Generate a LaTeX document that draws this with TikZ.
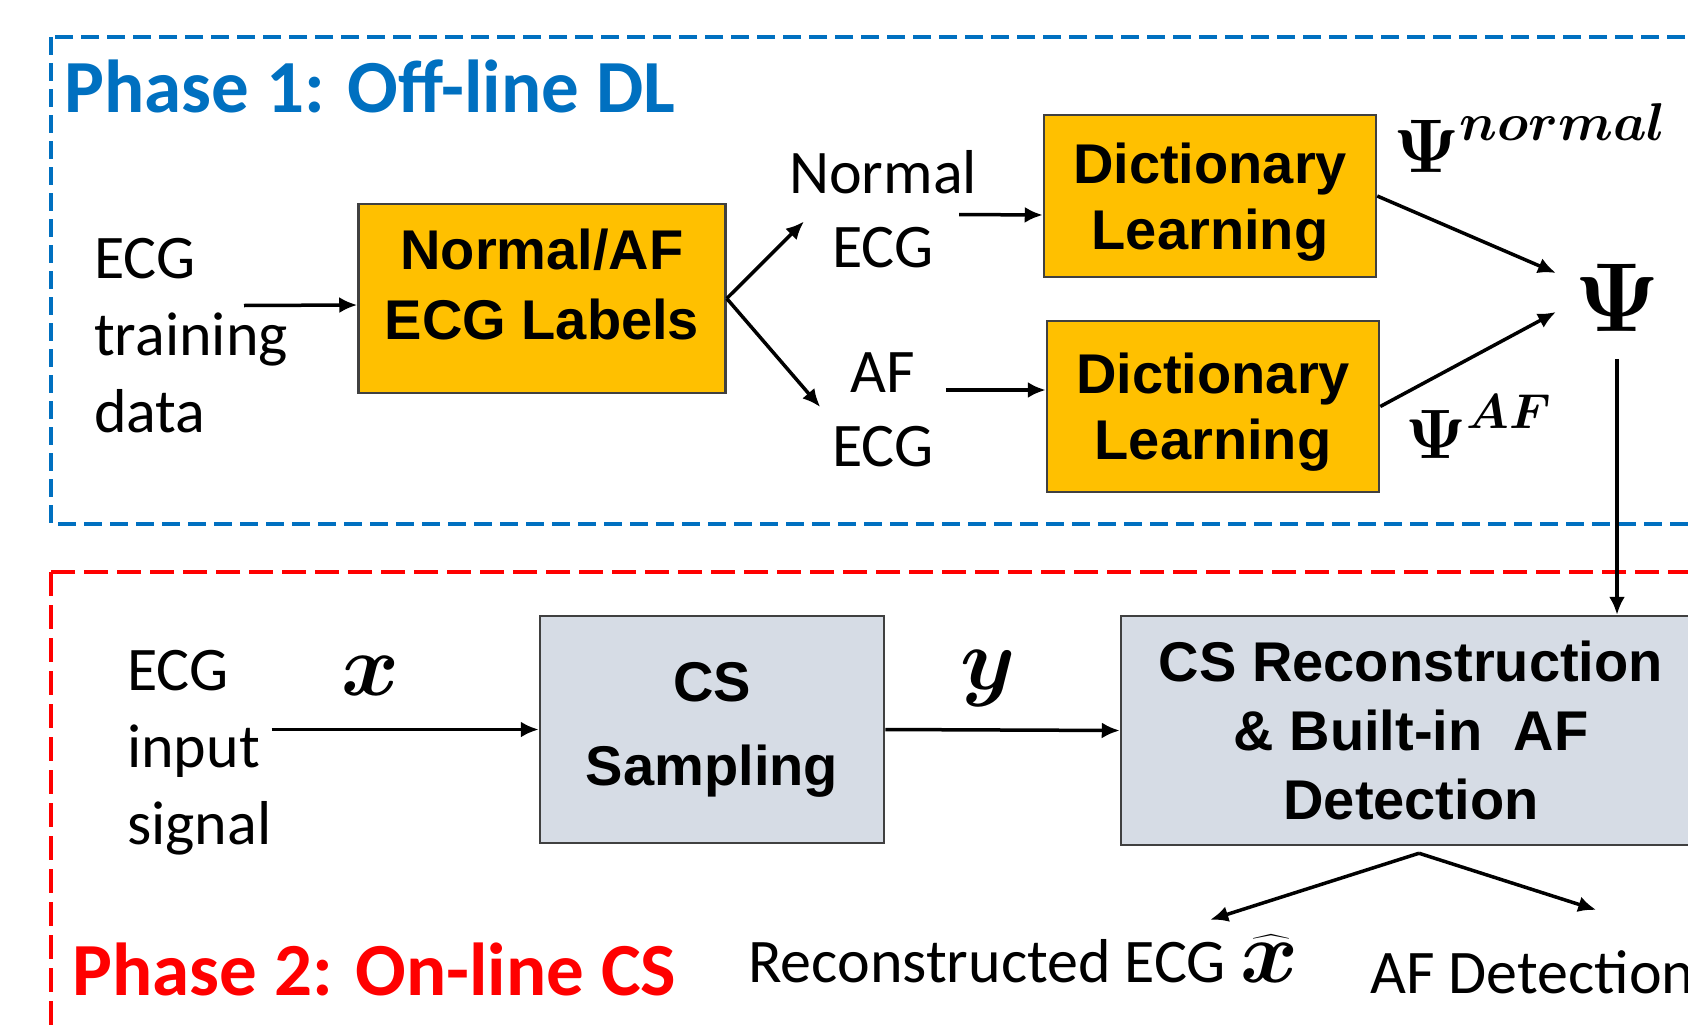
\RequirePackage{fix-cm}
\documentclass[tikz,border=0pt]{standalone}
\usepackage{exscale}
\usepackage{fontspec}
\usepackage{bm}
\usetikzlibrary{arrows.meta}
\newfontfamily\calibrifont{Carlito}
\newfontfamily\arialfont{Liberation Sans}
\definecolor{phaseBlue}{HTML}{0070C0}
\definecolor{phaseRed}{HTML}{FF0000}
\definecolor{dlYellow}{HTML}{FFC000}
\definecolor{csGray}{HTML}{D6DCE5}
\definecolor{boxEdge}{HTML}{404040}

\begin{document}
\begin{tikzpicture}[x=1pt, y=-1pt,
  dlbox/.style={draw=boxEdge, line width=2.5pt, fill=dlYellow, align=center, font=\arialfont\bfseries\fontsize{56}{66}\selectfont},
  csbox/.style={draw=boxEdge, line width=2.5pt, fill=csGray, align=center, font=\arialfont\bfseries\fontsize{56}{69}\selectfont},
  lbl/.style={inner sep=0pt, align=left, font=\calibrifont\fontsize{62}{77}\selectfont},
  ecglbl/.style={inner sep=0pt, align=center, font=\calibrifont\fontsize{62}{74}\selectfont},
  phase/.style={anchor=base west, inner sep=0pt, font=\calibrifont\bfseries\fontsize{75}{75}\selectfont},
  mathlbl/.style={inner sep=0pt},
  arr/.style={-{Latex[length=18pt, width=16pt]}, line width=3.5pt}]
  \useasboundingbox (0,0) rectangle (1688,1025);
  \clip (0,0) rectangle (1688,1025);

  \draw[phaseBlue, line width=4pt, dash pattern=on 18pt off 8pt] (51,37) rectangle (1720,524);
  \draw[phaseRed, line width=4pt, dash pattern=on 24pt off 9pt] (51,572) rectangle (1720,1060);
  \node[phase, text=phaseBlue] (ph1) at (64,112) {Phase 1: Off-line DL};
  \node[phase, text=phaseRed] (ph2) at (72,995) {Phase 2: On-line CS};

  \node[lbl, anchor=west] (train) at (94,335.5) {ECG\\training\\data};
  \node[dlbox, minimum width=367pt, minimum height=189pt, text depth=28pt, font=\arialfont\bfseries\fontsize{56}{70}\selectfont] (lab) at (542,298.5) {Normal/AF\\ECG Labels};
  \node[ecglbl] (nrm) at (883,209.5) {Normal\\ECG};
  \node[ecglbl] (afe) at (883,410) {AF\\ECG};
  \node[dlbox, minimum width=332pt, minimum height=162pt, text depth=0pt] (dict1) at (1210,196) {Dictionary\\Learning};
  \node[dlbox, minimum width=332pt, minimum height=171pt, text depth=0pt] (dict2) at (1213,406.5) {Dictionary\\Learning};
  \node[mathlbl, anchor=base west, font=\fontsize{76}{76}\selectfont] (psin) at (1393,172) {$\bm{\Psi}^{\bm{normal}}$};
  \node[mathlbl, anchor=base west, font=\fontsize{70}{70}\selectfont] (psia) at (1405,458) {$\bm{\Psi}^{\bm{AF}}$};
  \node[mathlbl, font=\fontsize{98}{98}\selectfont] (psi) at (1617,298) {$\bm{\Psi}$};

  \node[lbl, anchor=west] (inp) at (127,752.5) {ECG\\input\\signal};
  \node[mathlbl, font=\fontsize{88}{88}\selectfont] (xin) at (370,676) {$\bm{x}$};
  \node[csbox, minimum width=344pt, minimum height=227pt, font=\arialfont\bfseries\fontsize{56}{84}\selectfont] (samp) at (712,729.5) {CS\\Sampling};
  \node[mathlbl, font=\fontsize{88}{88}\selectfont] (ylb) at (988,678) {$\bm{y}$};
  \node[csbox, minimum width=580pt, minimum height=229pt, text depth=0pt] (recon) at (1411,730.5) {CS Reconstruction\\\& Built-in\ \ AF\\Detection};
  \node[lbl, anchor=base west] (rec) at (748,982) {Reconstructed ECG {\fontsize{88}{88}\selectfont$\bm{\widehat{x}}$}};
  \node[lbl, anchor=base west] (afd) at (1370,993) {AF Detection};

  \draw[arr] ([xshift=-44pt, yshift=30pt]train.east) -- ([yshift=-6.5pt]lab.west);
  \draw[arr] (lab.east) -- ([xshift=15pt, yshift=-12pt]nrm.west);
  \draw[arr] (lab.east) -- ([xshift=-12pt, yshift=3pt]afe.west);
  \draw[arr] ([xshift=-18pt, yshift=-5pt]nrm.east) -- ([yshift=-19pt]dict1.west);
  \draw[arr] ([xshift=12pt, yshift=20pt]afe.east) -- ([yshift=16.5pt]dict2.west);
  \draw[arr] (dict1.east) -- ([xshift=-18pt, yshift=25pt]psi.west);
  \draw[arr] (dict2.east) -- ([xshift=-18pt, yshift=-14pt]psi.west);
  \draw[arr] ([yshift=-27pt]psi.south) -- (psi.south |- recon.north);
  \draw[arr] (inp.east |- samp.west) -- (samp.west);
  \draw[arr] (samp.east) -- (recon.west);
  \draw[arr] ([xshift=8pt, yshift=-7pt]recon.south) -- ([xshift=-88pt, yshift=15pt]rec.north east);
  \draw[arr] ([xshift=8pt, yshift=-7pt]recon.south) -- ([xshift=64pt, yshift=40pt]afd.north);
\end{tikzpicture}
\end{document}
